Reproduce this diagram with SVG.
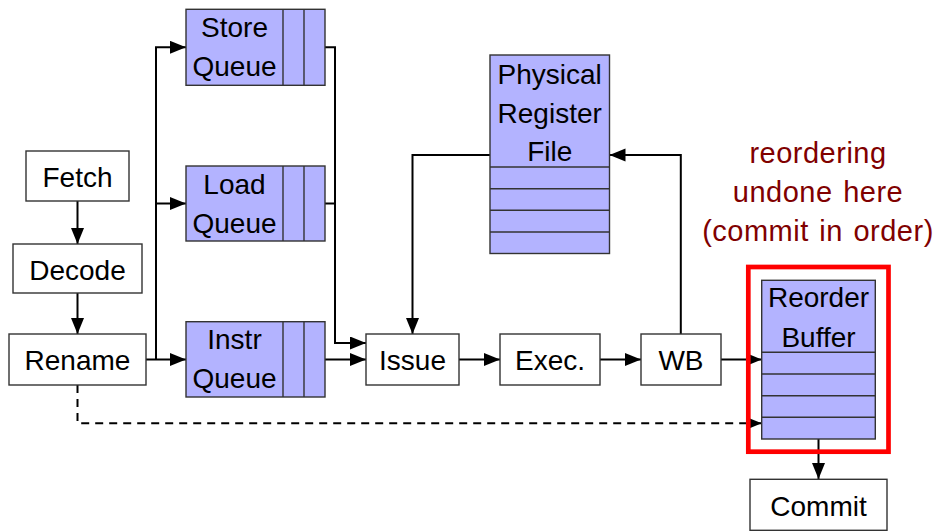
<svg xmlns="http://www.w3.org/2000/svg" width="943" height="532" viewBox="0 0 943 532">
<style>
.box{fill:#fff;stroke:#333;stroke-width:1.4}
.q{fill:#b3b3ff;stroke:#333;stroke-width:1.4}
.t{font-family:"Liberation Sans",Arial,sans-serif;font-size:28px;text-anchor:middle;fill:#000}
.rt{font-family:"Liberation Sans",Arial,sans-serif;font-size:29px;word-spacing:2px;letter-spacing:0.5px;text-anchor:middle;fill:#800000}
.c{fill:none;stroke:#000;stroke-width:2;marker-end:url(#ah)}
.n{fill:none;stroke:#000;stroke-width:2}
.d{fill:none;stroke:#000;stroke-width:2;stroke-dasharray:8 6;marker-end:url(#ah)}
</style>
<defs>
<marker id="ah" markerUnits="userSpaceOnUse" markerWidth="18" markerHeight="14" refX="16" refY="6.5" orient="auto">
<path d="M0,0 L16,6.5 L0,13 z" fill="#000" stroke="none"/>
</marker>
</defs>
<rect width="943" height="532" fill="#fff"/>
<g id="connectors">
<path class="c" d="M77.5,201 V244"/>
<path class="c" d="M77.5,293 V334"/>
<path class="c" d="M146,359.5 H186"/>
<path class="c" d="M156,359.5 V47.3 H186"/>
<path class="c" d="M156,203.5 H186"/>
<path class="c" d="M325,47.3 H335 V343 H366"/>
<path class="n" d="M325,203.5 H335"/>
<path class="c" d="M325,359.5 H366"/>
<path class="c" d="M490,155 H412.5 V334"/>
<path class="c" d="M680.8,334 V155 H609.5"/>
<path class="c" d="M459,359.5 H500"/>
<path class="c" d="M600,359.5 H641"/>
<path class="c" d="M721,359.5 H761.7"/>
<path class="d" d="M77.5,385 V423.3 H761.7"/>
<path class="c" d="M818.5,439 V479"/>
</g>
<g id="fetch"><rect class="box" x="26" y="151" width="103" height="50"/><text class="t" x="77.5" y="187">Fetch</text></g>
<g id="decode"><rect class="box" x="13" y="244" width="129" height="49"/><text class="t" x="77.5" y="280">Decode</text></g>
<g id="rename"><rect class="box" x="9" y="334" width="137" height="51"/><text class="t" x="77.5" y="370">Rename</text></g>
<g id="storeq"><rect class="q" x="186" y="9.3" width="139" height="76"/><line class="q" x1="283" y1="9.3" x2="283" y2="85.3"/><line class="q" x1="304" y1="9.3" x2="304" y2="85.3"/><text class="t" x="234.5" y="36.7">Store</text><text class="t" x="234.5" y="76">Queue</text></g>
<g id="loadq"><rect class="q" x="186" y="166" width="139" height="75"/><line class="q" x1="283" y1="166" x2="283" y2="241"/><line class="q" x1="304" y1="166" x2="304" y2="241"/><text class="t" x="234.5" y="194">Load</text><text class="t" x="234.5" y="233">Queue</text></g>
<g id="instrq"><rect class="q" x="186" y="321.7" width="139" height="75.3"/><line class="q" x1="283" y1="321.7" x2="283" y2="397"/><line class="q" x1="304" y1="321.7" x2="304" y2="397"/><text class="t" x="234.5" y="349.3">Instr</text><text class="t" x="234.5" y="388.3">Queue</text></g>
<g id="issue"><rect class="box" x="366" y="334" width="93" height="51"/><text class="t" x="412.5" y="370">Issue</text></g>
<g id="exec"><rect class="box" x="500" y="334" width="100" height="51"/><text class="t" x="550" y="370">Exec.</text></g>
<g id="wb"><rect class="box" x="641" y="334" width="80" height="51"/><text class="t" x="681" y="370">WB</text></g>
<g id="prf"><rect class="q" x="490" y="55" width="119.5" height="198.5"/><line class="q" x1="490" y1="167" x2="609.5" y2="167"/><line class="q" x1="490" y1="188.7" x2="609.5" y2="188.7"/><line class="q" x1="490" y1="210.3" x2="609.5" y2="210.3"/><line class="q" x1="490" y1="232" x2="609.5" y2="232"/><text class="t" x="549.7" y="84">Physical</text><text class="t" x="549.7" y="122.7">Register</text><text class="t" x="549.7" y="160.7">File</text></g>
<g id="rob"><rect class="q" x="761.7" y="280.3" width="113.6" height="158.7"/><line class="q" x1="761.7" y1="352.3" x2="875.3" y2="352.3"/><line class="q" x1="761.7" y1="374" x2="875.3" y2="374"/><line class="q" x1="761.7" y1="395.7" x2="875.3" y2="395.7"/><line class="q" x1="761.7" y1="417.3" x2="875.3" y2="417.3"/><text class="t" x="818.5" y="307.3">Reorder</text><text class="t" x="818.5" y="347.3">Buffer</text></g>
<g id="highlight"><rect x="748.3" y="267" width="140.2" height="184.7" fill="none" stroke="#ff0000" stroke-width="4.7"/></g>
<g id="note"><text class="rt" x="818" y="163">reordering</text><text class="rt" x="818" y="202">undone here</text><text class="rt" x="818" y="241">(commit in order)</text></g>
<g id="commit"><rect class="box" x="750" y="479.3" width="137" height="51"/><text class="t" x="818.5" y="516">Commit</text></g>
</svg>
